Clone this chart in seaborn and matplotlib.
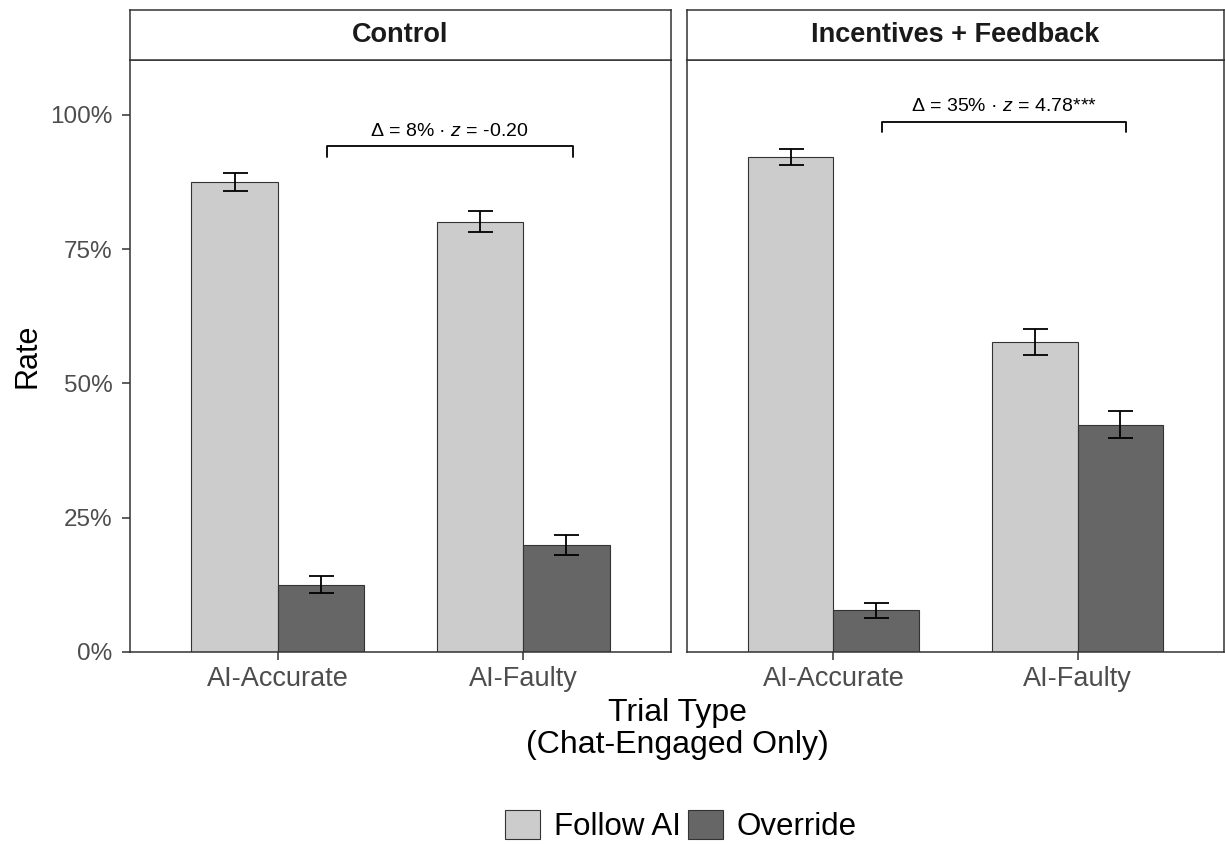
import matplotlib
matplotlib.use("Agg")
import matplotlib.pyplot as plt
import seaborn as sns
import pandas as pd
from matplotlib.patches import Patch
from matplotlib.ticker import PercentFormatter

# ---- data ----
conditions = ["Control", "Incentives + Feedback"]
trials = ["AI-Accurate", "AI-Faulty"]
responses = ["Follow AI", "Override"]
control_follow = [0.875, 0.801]
control_override = [0.125, 0.199]
control_follow_err = [0.016, 0.019]
control_override_err = [0.016, 0.019]
incent_follow = [0.922, 0.577]
incent_override = [0.078, 0.423]
incent_follow_err = [0.015, 0.025]
incent_override_err = [0.014, 0.025]
delta_labels = ["8%", "35%"]
z_values = [-0.20, 4.78]
sig_marks = ["", "***"]
y_ticks = [0, 0.25, 0.5, 0.75, 1.0]
colors = ["#CCCCCC", "#666666"]

rows = []
for cond, fol, ovr, fe, oe in [
    ("Control", control_follow, control_override, control_follow_err, control_override_err),
    ("Incentives + Feedback", incent_follow, incent_override, incent_follow_err, incent_override_err),
]:
    for i, t in enumerate(trials):
        rows.append(dict(Condition=cond, Trial=t, Response="Follow AI", Rate=fol[i], Err=fe[i]))
        rows.append(dict(Condition=cond, Trial=t, Response="Override", Rate=ovr[i], Err=oe[i]))
df = pd.DataFrame(rows)

sns.set_theme(style="white")
plt.rcParams["font.family"] = ["Liberation Sans", "DejaVu Sans"]
plt.rcParams["mathtext.fontset"] = "custom"
plt.rcParams["mathtext.rm"] = "Liberation Sans"
plt.rcParams["mathtext.it"] = "Liberation Sans:italic"
plt.rcParams["text.color"] = "black"

W, H = 1225, 844
fig = plt.figure(figsize=(W / 100, H / 100), dpi=100)

panel_px = [(130, 671), (687, 1224)]
top_px, bot_px, strip_top_px = 60, 652, 10
edge = "#333333"
tick_color = "#4D4D4D"

for k, cond in enumerate(conditions):
    x0, x1 = panel_px[k]
    ax = fig.add_axes([x0 / W, (H - bot_px) / H, (x1 - x0) / W, (bot_px - top_px) / H])
    sub = df[df.Condition == cond]
    sns.barplot(data=sub, x="Trial", y="Rate", hue="Response", order=trials,
                hue_order=responses, palette=colors, edgecolor=edge, linewidth=0.8,
                width=0.7, gap=0, errorbar=None, legend=False, ax=ax)
    # error bars from bar positions
    for p in ax.patches:
        cx = p.get_x() + p.get_width() / 2
        ci = int(round(cx))
        hi = 0 if cx < ci else 1
        r = sub[(sub.Trial == trials[ci]) & (sub.Response == responses[hi])].iloc[0]
        ax.errorbar(cx, r.Rate, yerr=r.Err, color="black", capsize=9, capthick=1.3,
                    elinewidth=1.3, fmt="none", zorder=5)
    ax.set_xlim(-0.6, 1.6)
    ax.set_ylim(0, 1.102)
    ax.set_xlabel("")
    ax.set_ylabel("")
    for s in ax.spines.values():
        s.set_visible(True)
        s.set_color(edge)
        s.set_linewidth(1.1)
    ax.tick_params(axis="x", colors=edge, labelcolor=tick_color, labelsize=19.5,
                   length=6, width=1.1, pad=4, bottom=True)
    if k == 0:
        ax.set_yticks(y_ticks)
        ax.yaxis.set_major_formatter(PercentFormatter(1.0, decimals=0))
        ax.tick_params(axis="y", colors=edge, labelcolor=tick_color, labelsize=17.5,
                       length=6, width=1.1, pad=6.5, left=True)
    else:
        ax.set_yticks([])
    # bracket annotation
    top = (sub.Rate + sub.Err).max()
    by = top + 0.05
    xl, xr = 0.2, 1.2
    ax.plot([xl, xl, xr, xr], [by - 0.019, by, by, by - 0.019], color="black", lw=1.3)
    zt = f"{z_values[k]:.2f}{sig_marks[k]}"
    ax.text((xl + xr) / 2, by + 0.012, f"Δ = {delta_labels[k]} · $z$ = {zt}",
            ha="center", va="bottom", fontsize=14, color="black")
    # strip
    sax = fig.add_axes([x0 / W, (H - top_px) / H, (x1 - x0) / W, (top_px - strip_top_px) / H])
    sax.set_xticks([])
    sax.set_yticks([])
    sax.set_facecolor("white")
    for s in sax.spines.values():
        s.set_visible(True)
        s.set_color(edge)
        s.set_linewidth(1.1)
    sax.text(0.5, 0.5, cond, ha="center", va="center", fontsize=19.5, fontweight="bold",
             color="#1A1A1A", transform=sax.transAxes)

fig.text(27 / W, 1 - 356 / H, "Rate", rotation=90, ha="center", va="center", fontsize=22)
fig.text(677 / W, 1 - 729 / H, "Trial Type\n(Chat-Engaged Only)", ha="center", va="center",
         fontsize=23, linespacing=1.05)

handles = [Patch(facecolor=c, edgecolor=edge, linewidth=0.8) for c in colors]
fig.legend(handles, responses, loc="center", bbox_to_anchor=(681 / W, 1 - 826 / H),
           ncol=2, frameon=False, fontsize=22.5, handlelength=1.1, handleheight=1.05,
           handletextpad=0.45, columnspacing=0.25, borderpad=0)

fig.savefig("out.png", dpi=100, facecolor="white")
